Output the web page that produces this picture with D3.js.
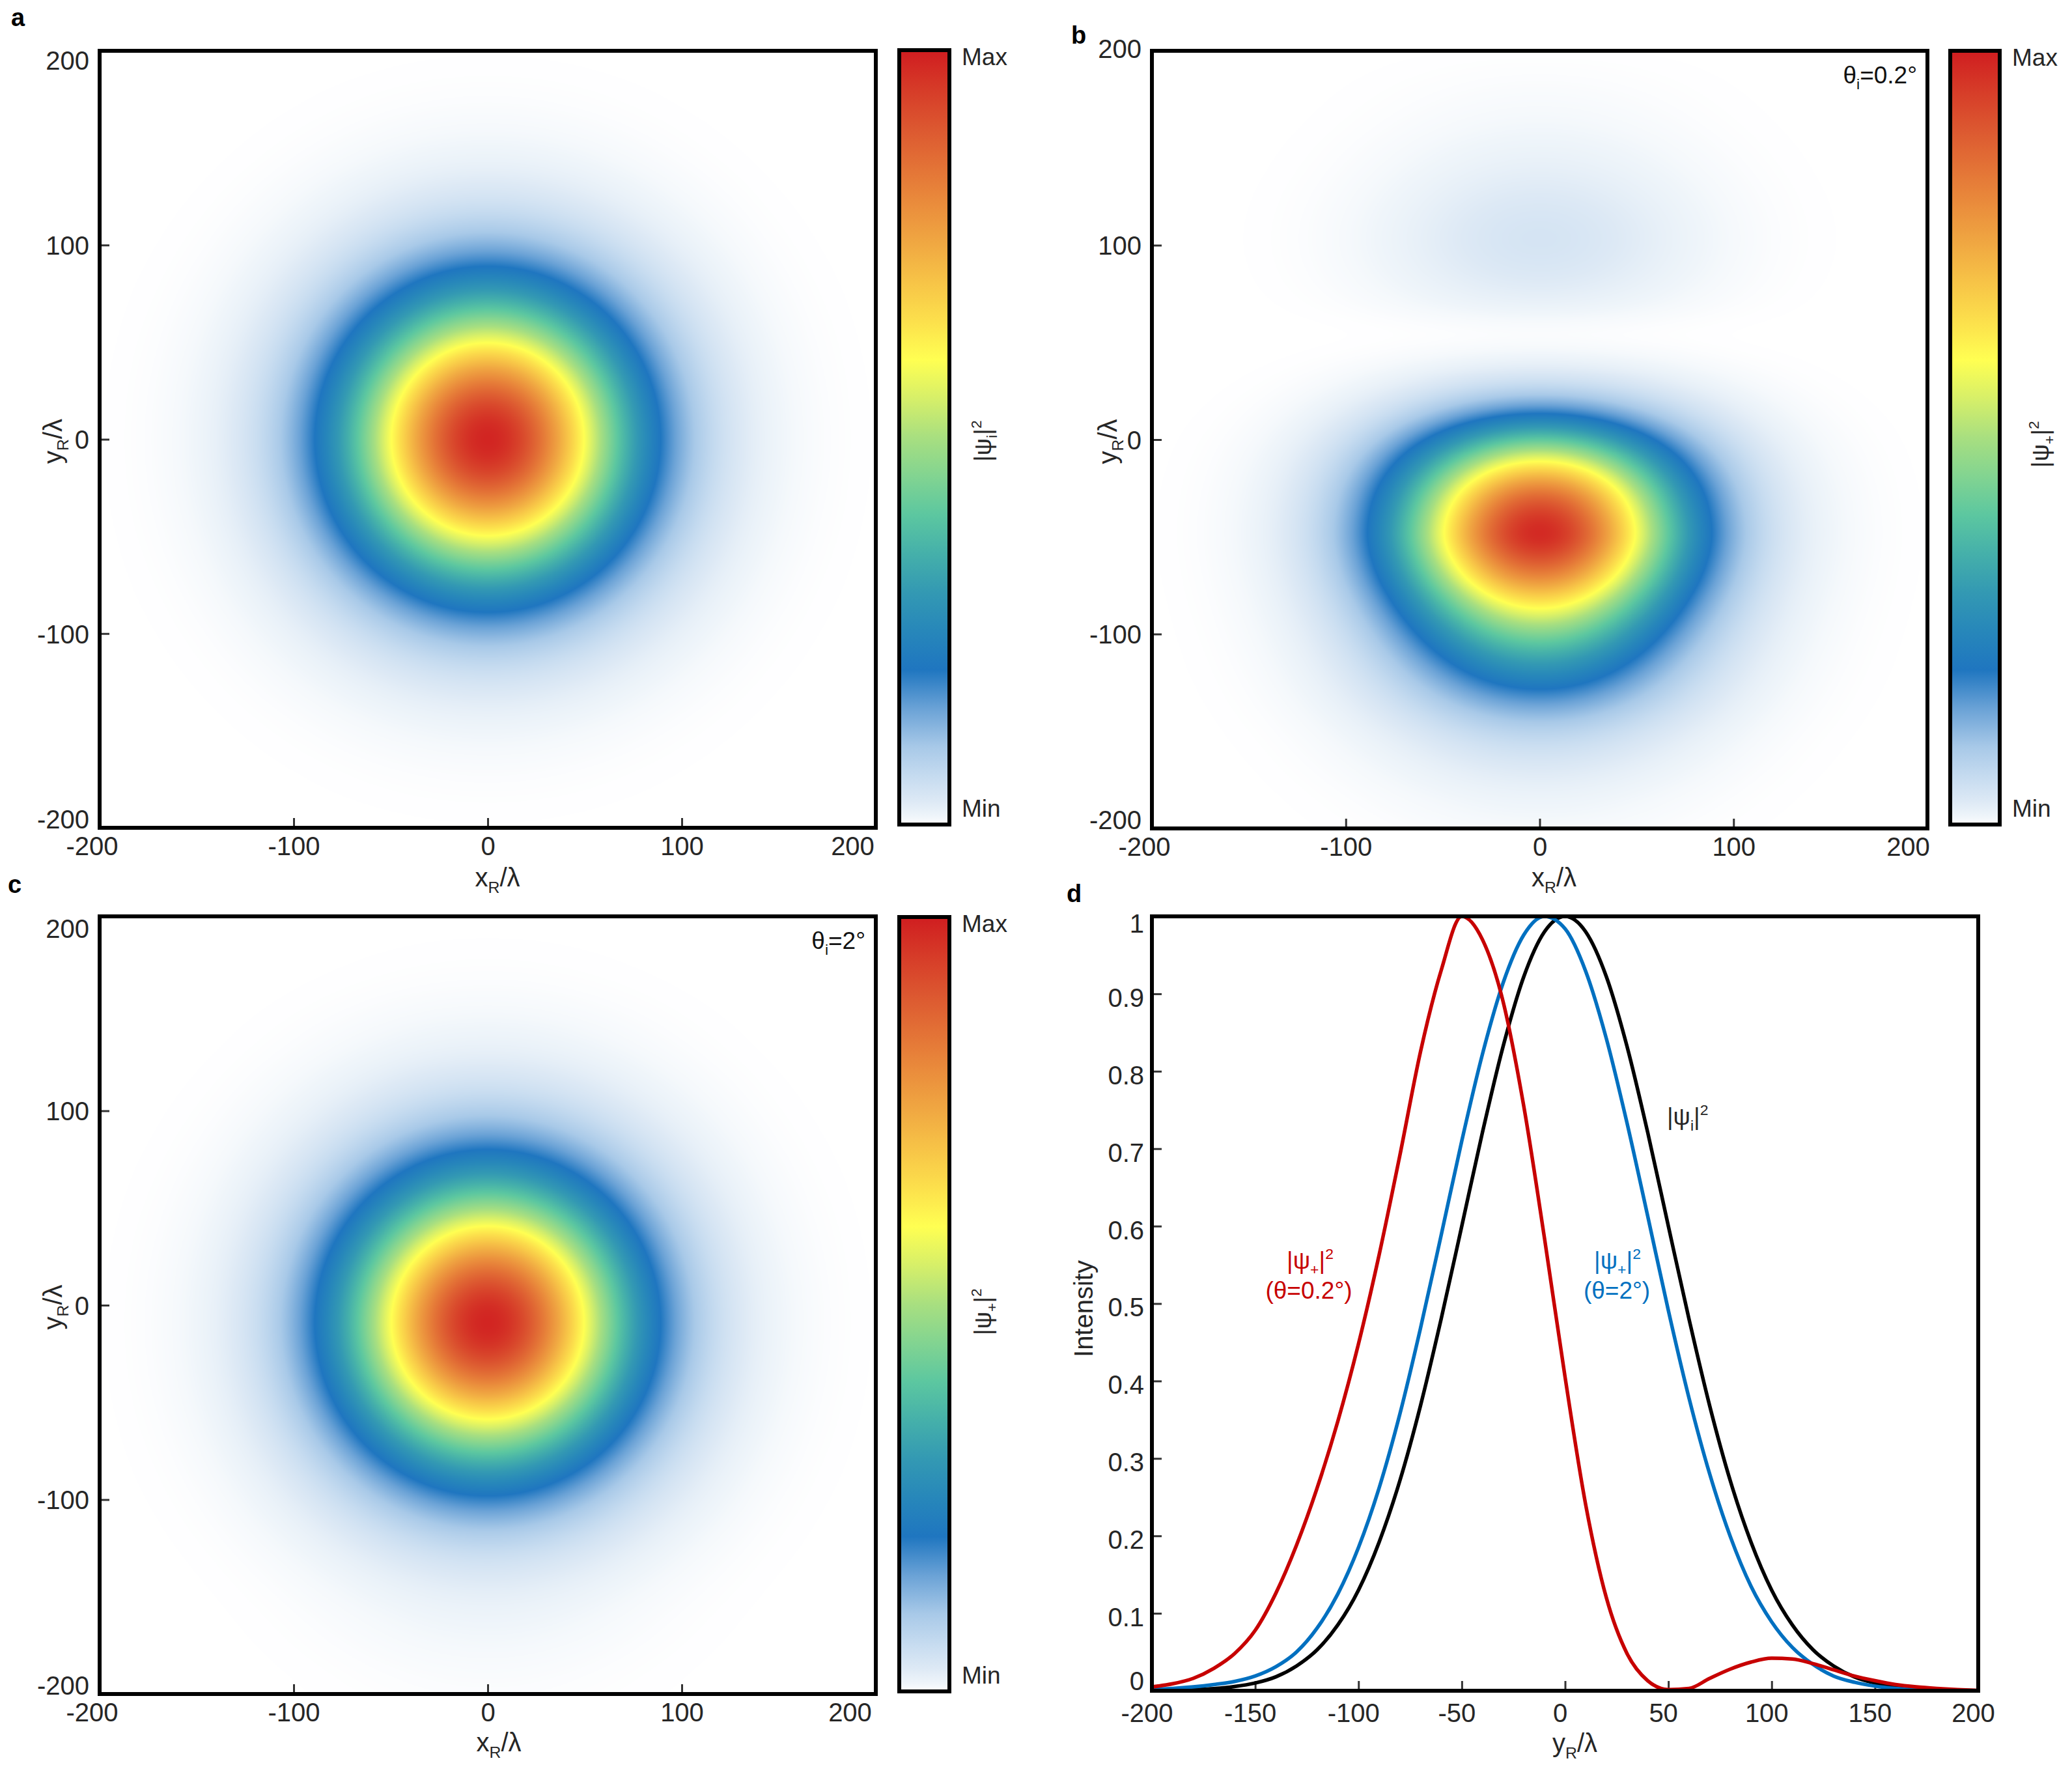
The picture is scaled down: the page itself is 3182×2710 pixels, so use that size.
<!DOCTYPE html>
<html>
<head>
<meta charset="utf-8">
<script src="https://cdn.jsdelivr.net/npm/d3@7"></script>
<style>
  body { margin: 0; background: #fff; }
  text { font-family: "Liberation Sans", Arial, sans-serif; }
</style>
</head>
<body>
<script>
// sample positions (in units of lambda) for the line profiles
const positions = [-200,-190,-180,-170,-160,-150,-140,-130,-120,-110,-100,-90,-80,-70,-60,-50,-40,-30,-20,-10,
    0,10,20,30,40,50,60,70,80,90,100,110,120,130,140,150,160,170,180,190,200];

// |psi_i|^2  (black)
const incident = [0.0003,0.0006,0.0014,0.0027,0.0054,0.010,0.018,0.032,0.053,0.085,0.130,0.192,0.271,0.368,0.480,0.600,0.721,0.832,0.922,0.980,
    1.000,0.980,0.922,0.832,0.721,0.600,0.480,0.368,0.271,0.192,0.130,0.085,0.053,0.032,0.018,0.010,0.0054,0.0027,0.0014,0.0006,0.0003];

// |psi_+|^2, theta = 0.2 deg  (red)
const plus02 = [0.005,0.009,0.016,0.029,0.048,0.078,0.126,0.188,0.262,0.348,0.448,0.563,0.691,0.825,0.930,1.000,0.970,0.890,0.755,0.585,
    0.405,0.240,0.120,0.048,0.013,0.0015,0.003,0.016,0.028,0.037,0.042,0.041,0.035,0.027,0.019,0.013,0.008,0.005,0.003,0.0015,0.0005];

// |psi_+|^2, theta = 2 deg  (blue)
const plus2 = [0.002,0.003,0.005,0.008,0.012,0.019,0.031,0.050,0.081,0.125,0.185,0.262,0.357,0.468,0.588,0.710,0.822,0.914,0.976,1.000,
    0.984,0.929,0.842,0.733,0.613,0.491,0.378,0.280,0.199,0.135,0.089,0.056,0.034,0.019,0.011,0.006,0.003,0.0014,0.0007,0.0003,0.0001];

const mapTicks = [-200, -100, 0, 100, 200];
const profileTicks = [-200, -150, -100, -50, 0, 50, 100, 150, 200];
const intensityTicks = [0, 0.1, 0.2, 0.3, 0.4, 0.5, 0.6, 0.7, 0.8, 0.9, 1];

// colour map Min -> Max
const cmapStops = [0, 0.003, 0.01, 0.03, 0.06, 0.1, 0.15, 0.2, 0.25, 0.3, 0.35, 0.4, 0.45, 0.5, 0.55, 0.6, 0.65, 0.7, 0.75, 0.8, 0.85, 0.9, 0.95, 1];
const cmapColors = ["#ffffff","#f9fbfd","#eff5fa","#dde9f5","#c7dcf0","#a8c9e8","#6aa2d6","#1f76c0","#2787ba","#3399b3","#45b0aa","#5cc7a0","#82d491",
    "#a8df80","#d6ef69","#ffff52","#fce04c","#f7c447","#f0a842","#ea8d3c","#e37236","#dc5730","#d63b28","#d01d20"];

const W = 3182, H = 2710;
const TICK_FS = 40, SMALL_FS = 37;
const ink = "#262626";

const svg = d3.select("body").append("svg")
    .attr("width", W)
    .attr("height", H)
    .style("background", "#fff");

const color = d3.scaleLinear().domain(cmapStops).range(cmapColors).clamp(true);

// text with sub/superscripts: parts = [[string, kind]]
function rich(sel, parts, fs) {
    let shift = 0;
    parts.forEach(([s, kind]) => {
        const target = kind === "sub" ? fs * 0.25 : kind === "sup" ? -fs * 0.4 : 0;
        sel.append("tspan")
            .attr("dy", target - shift)
            .attr("font-size", kind ? fs * 0.62 : fs)
            .text(s);
        shift = target;
    });
    return sel;
}

function profileFn(values) {
    const f = d3.interpolateBasis(values);
    const t = d3.scaleLinear().domain([positions[0], positions[positions.length - 1]]).range([0, 1]).clamp(true);
    return v => f(t(v));
}

function styleAxis(g) {
    g.attr("font-family", null).attr("font-size", null);
    g.select(".domain").remove();
    g.selectAll(".tick line").attr("stroke", "#333").attr("stroke-width", 3);
    g.selectAll(".tick text").attr("fill", ink).attr("font-size", TICK_FS);
}

// ---------- intensity maps ----------
const mapPanels = [
    { label: "a", lx: 17, ly: 40, left: 153, right: 1345, top: 78, bottom: 1271,
      cb: { x0: 1381, x1: 1458, y0: 77, y1: 1266 }, xProf: incident, yProf: incident,
      cbTitle: [["|ψ"], ["i", "sub"], ["|"], ["2", "sup"]], cbTitleX: 1522, cbTitleY: 677,
      yTitleX: 95, xTitleDx: 15, xTitleY: 1361, topNudge: 14, lastXNudge: -36, note: null },
    { label: "b", lx: 1645, ly: 67, left: 1769, right: 2960, top: 78, bottom: 1272,
      cb: { x0: 2995, x1: 3071, y0: 78, y1: 1266 }, xProf: incident, yProf: plus02,
      cbTitle: [["|ψ"], ["+", "sub"], ["|"], ["2", "sup"]], cbTitleX: 3146, cbTitleY: 682,
      yTitleX: 1715, xTitleDx: 22, xTitleY: 1361, topNudge: -4, lastXNudge: -30,
      note: [["θ"], ["i", "sub"], ["=0.2°"]] },
    { label: "c", lx: 12, ly: 1371, left: 153, right: 1345, top: 1407, bottom: 2601,
      cb: { x0: 1381, x1: 1458, y0: 1408, y1: 2597 }, xProf: incident, yProf: plus2,
      cbTitle: [["|ψ"], ["+", "sub"], ["|"], ["2", "sup"]], cbTitleX: 1522, cbTitleY: 2014,
      yTitleX: 95, xTitleDx: 17, xTitleY: 2689, topNudge: 18, lastXNudge: -40,
      note: [["θ"], ["i", "sub"], ["=2°"]] }
];

const lut = d3.range(4096).map(k => d3.rgb(color(k / 4095)));

mapPanels.forEach(p => {
    const g = svg.append("g");
    const x = d3.scaleLinear().domain([-200, 200]).range([p.left, p.right]);
    const y = d3.scaleLinear().domain([-200, 200]).range([p.bottom, p.top]);

    // raster of |psi|^2 built from the x and y profiles
    const w = Math.round(p.right - p.left), h = Math.round(p.bottom - p.top);
    const canvas = document.createElement("canvas");
    canvas.width = w; canvas.height = h;
    const ctx = canvas.getContext("2d");
    const img = ctx.createImageData(w, h);
    const fx = profileFn(p.xProf), fy = profileFn(p.yProf);
    const colVals = d3.range(w).map(i => fx(x.invert(p.left + (i + 0.5) * (p.right - p.left) / w)));
    const rowVals = d3.range(h).map(j => fy(y.invert(p.top + (j + 0.5) * (p.bottom - p.top) / h)));
    for (let j = 0; j < h; j++) {
        for (let i = 0; i < w; i++) {
            const v = Math.max(0, Math.min(1, colVals[i] * rowVals[j]));
            const c = lut[Math.round(v * 4095)];
            const k = (j * w + i) * 4;
            img.data[k] = c.r; img.data[k + 1] = c.g; img.data[k + 2] = c.b; img.data[k + 3] = 255;
        }
    }
    ctx.putImageData(img, 0, 0);
    g.append("image")
        .attr("x", p.left).attr("y", p.top)
        .attr("width", p.right - p.left).attr("height", p.bottom - p.top)
        .attr("preserveAspectRatio", "none")
        .attr("href", canvas.toDataURL());

    // axes
    const n = mapTicks.length;
    const xa = g.append("g")
        .attr("transform", `translate(0,${p.bottom})`)
        .call(d3.axisBottom(x).tickValues(mapTicks).tickSize(-15).tickPadding(14).tickFormat(d => String(d)));
    styleAxis(xa);
    xa.selectAll(".tick text").attr("dx", (d, i) => i === 0 ? -12 : i === n - 1 ? p.lastXNudge : 0);

    const ya = g.append("g")
        .attr("transform", `translate(${p.left},0)`)
        .call(d3.axisLeft(y).tickValues(mapTicks).tickSize(-15).tickPadding(16).tickFormat(d => String(d)));
    styleAxis(ya);
    ya.selectAll(".tick text").attr("dy", "0.36em")
        .attr("y", (d, i) => i === 0 ? -14 : i === n - 1 ? p.topNudge : 0);

    // frame
    g.append("rect")
        .attr("x", p.left).attr("y", p.top)
        .attr("width", p.right - p.left).attr("height", p.bottom - p.top)
        .attr("fill", "none").attr("stroke", "#000").attr("stroke-width", 6);

    // axis titles
    rich(g.append("text")
        .attr("x", (p.left + p.right) / 2 + p.xTitleDx).attr("y", p.xTitleY)
        .attr("text-anchor", "middle").attr("fill", ink),
        [["x"], ["R", "sub"], ["/λ"]], TICK_FS);
    const cy = (p.top + p.bottom) / 2 + 3;
    rich(g.append("text")
        .attr("transform", `translate(${p.yTitleX},${cy}) rotate(-90)`)
        .attr("text-anchor", "middle").attr("fill", ink),
        [["y"], ["R", "sub"], ["/λ"]], TICK_FS);

    if (p.note) {
        rich(g.append("text")
            .attr("x", p.right - 16).attr("y", p.top + 50)
            .attr("text-anchor", "end").attr("fill", "#111"),
            p.note, SMALL_FS);
    }

    // colour bar
    const gid = "grad-" + p.label;
    const grad = svg.append("defs").append("linearGradient")
        .attr("id", gid).attr("x1", 0).attr("y1", 1).attr("x2", 0).attr("y2", 0);
    grad.selectAll("stop").data(cmapStops).enter().append("stop")
        .attr("offset", d => d)
        .attr("stop-color", (d, i) => cmapColors[i]);
    g.append("rect")
        .attr("x", p.cb.x0).attr("y", p.cb.y0)
        .attr("width", p.cb.x1 - p.cb.x0).attr("height", p.cb.y1 - p.cb.y0)
        .attr("fill", `url(#${gid})`)
        .attr("stroke", "#000").attr("stroke-width", 6);
    g.append("text").attr("x", p.cb.x1 + 19).attr("y", p.cb.y0 + 23)
        .attr("font-size", SMALL_FS).attr("fill", ink).text("Max");
    g.append("text").attr("x", p.cb.x1 + 19).attr("y", p.cb.y1 - 12)
        .attr("font-size", SMALL_FS).attr("fill", ink).text("Min");
    rich(g.append("text")
        .attr("transform", `translate(${p.cbTitleX},${p.cbTitleY}) rotate(-90)`)
        .attr("text-anchor", "middle").attr("fill", ink),
        p.cbTitle, SMALL_FS);

    svg.append("text").attr("x", p.lx).attr("y", p.ly)
        .attr("font-size", 38).attr("font-weight", "bold").attr("fill", "#000").text(p.label);
});

// ---------- panel d: line profiles ----------
{
    const left = 1769, right = 3038, top = 1407, bottom = 2596;
    const g = svg.append("g");
    const x = d3.scaleLinear().domain([-200, 200]).range([left, right]);
    const y = d3.scaleLinear().domain([0, 1]).range([bottom, top]);

    const xa = g.append("g")
        .attr("transform", `translate(0,${bottom})`)
        .call(d3.axisBottom(x).tickValues(profileTicks).tickSize(-15).tickPadding(20).tickFormat(d => String(d)));
    styleAxis(xa);
    xa.selectAll(".tick text").attr("dx", -8);

    const n = intensityTicks.length;
    const ya = g.append("g")
        .attr("transform", `translate(${left},0)`)
        .call(d3.axisLeft(y).tickValues(intensityTicks).tickSize(-15).tickPadding(12).tickFormat(d => String(d)));
    styleAxis(ya);
    ya.selectAll(".tick text").attr("dy", "0.36em")
        .attr("y", (d, i) => i === 0 ? -16 : i === n - 1 ? 10 : 5);

    const series = [
        { values: incident, stroke: "#000000" },
        { values: plus2, stroke: "#0070c0" },
        { values: plus02, stroke: "#c70000" }
    ];
    const line = d3.line()
        .x((d, i) => x(positions[i]))
        .y(d => y(d))
        .curve(d3.curveMonotoneX);
    g.selectAll("path.profile").data(series).enter().append("path")
        .attr("class", "profile")
        .attr("d", s => line(s.values))
        .attr("fill", "none")
        .attr("stroke", s => s.stroke)
        .attr("stroke-width", 5.5)
        .attr("stroke-linejoin", "round");

    g.append("rect")
        .attr("x", left).attr("y", top)
        .attr("width", right - left).attr("height", bottom - top)
        .attr("fill", "none").attr("stroke", "#000").attr("stroke-width", 6);

    // curve labels
    rich(g.append("text").attr("x", 2012).attr("y", 1948).attr("text-anchor", "middle").attr("fill", "#c70000"),
        [["|ψ"], ["+", "sub"], ["|"], ["2", "sup"]], SMALL_FS);
    g.append("text").attr("x", 2010).attr("y", 1994).attr("text-anchor", "middle")
        .attr("font-size", SMALL_FS).attr("fill", "#c70000").text("(θ=0.2°)");
    rich(g.append("text").attr("x", 2484).attr("y", 1948).attr("text-anchor", "middle").attr("fill", "#0070c0"),
        [["|ψ"], ["+", "sub"], ["|"], ["2", "sup"]], SMALL_FS);
    g.append("text").attr("x", 2483).attr("y", 1994).attr("text-anchor", "middle")
        .attr("font-size", SMALL_FS).attr("fill", "#0070c0").text("(θ=2°)");
    rich(g.append("text").attr("x", 2560).attr("y", 1727).attr("fill", ink),
        [["|ψ"], ["i", "sub"], ["|"], ["2", "sup"]], SMALL_FS);

    // axis titles
    rich(g.append("text")
        .attr("x", (left + right) / 2 + 15).attr("y", 2690)
        .attr("text-anchor", "middle").attr("fill", ink),
        [["y"], ["R", "sub"], ["/λ"]], TICK_FS);
    g.append("text")
        .attr("transform", `translate(1678,${(top + bottom) / 2 + 8}) rotate(-90)`)
        .attr("text-anchor", "middle").attr("font-size", TICK_FS).attr("fill", ink)
        .text("Intensity");

    svg.append("text").attr("x", 1638).attr("y", 1385)
        .attr("font-size", 38).attr("font-weight", "bold").attr("fill", "#000").text("d");
}
</script>
</body>
</html>
